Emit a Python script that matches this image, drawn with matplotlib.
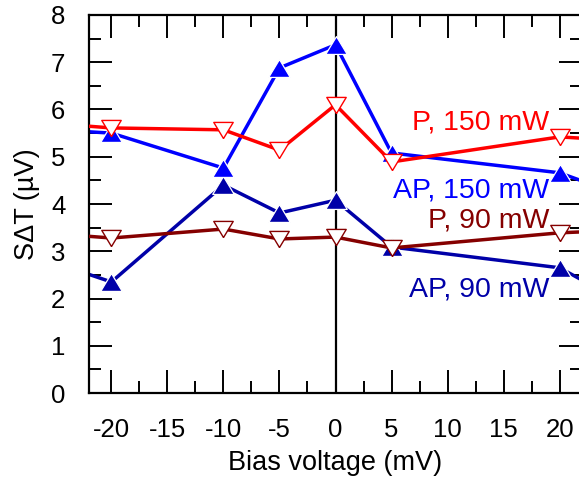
import matplotlib
matplotlib.use("Agg")
import matplotlib.pyplot as plt
from matplotlib.ticker import MultipleLocator

plt.rcParams["font.family"] = ["Liberation Sans", "DejaVu Sans"]
plt.rcParams["axes.unicode_minus"] = False

# bias voltage (mV); the outer points at +-25 lie outside the visible range
bias = [-25, -20, -10, -5, 0, 5, 20, 25]
ap_90 = [2.75, 2.35, 4.40, 3.81, 4.08, 3.09, 2.65, 2.00]
ap_150 = [5.57, 5.50, 4.76, 6.88, 7.37, 5.08, 4.66, 4.23]
p_150 = [5.70, 5.61, 5.57, 5.14, 6.10, 4.89, 5.42, 5.35]
p_90 = [3.37, 3.28, 3.47, 3.26, 3.30, 3.07, 3.39, 3.44]

labels = ["AP, 90 mW", "AP, 150 mW", "P, 90 mW", "P, 150 mW"]
label_y = [2.05, 4.13, 3.50, 5.57]
label_x = 19.1

navy = "#0000a8"
blue = "#0000ff"
dred = "#850000"
red = "#ff0000"

tri_up = [(0, 0.83), (-1, -0.83), (1, -0.83), (0, 0.83)]
tri_dn = [(0, -0.83), (-1, 0.83), (1, 0.83), (0, -0.83)]

fig = plt.figure(figsize=(5.79, 4.86), dpi=100)
ax = fig.add_axes([89 / 579, 93 / 486, 493 / 579, 378 / 486])

ax.axvline(0, color="k", lw=1.6, zorder=1)

lw = 2.5
ms = 15.5
ax.plot(bias, ap_90, color=navy, lw=lw, marker=tri_up, ms=ms,
        mfc=navy, mec="white", mew=0.9, zorder=2)
ax.plot(bias, ap_150, color=blue, lw=lw, marker=tri_up, ms=ms,
        mfc=blue, mec="white", mew=0.9, zorder=2)
ax.plot(bias, p_90, color=dred, lw=lw, marker=tri_dn, ms=ms - 1.5,
        mfc="white", mec=dred, mew=1.0, zorder=3)
ax.plot(bias, p_150, color=red, lw=lw, marker=tri_dn, ms=ms - 1.5,
        mfc="white", mec=red, mew=1.0, zorder=3)

for txt, y, c in zip(labels, label_y, [navy, blue, dred, red]):
    ax.text(label_x, y, txt, color=c, fontsize=20.5, ha="right", va="baseline")

ax.set_xlim(-22, 22)
ax.set_ylim(0, 8)
ax.xaxis.set_major_locator(MultipleLocator(5))
ax.xaxis.set_minor_locator(MultipleLocator(2.5))
ax.yaxis.set_major_locator(MultipleLocator(1))
ax.yaxis.set_minor_locator(MultipleLocator(0.5))
ax.tick_params(which="both", direction="in", top=True, right=True, width=1.4,
               color="k")
ax.tick_params(which="major", length=16.5, labelsize=18.5)
ax.tick_params(which="minor", length=8.5)
ax.tick_params(axis="x", which="major", pad=18)
ax.tick_params(axis="y", which="major", pad=17)
for s in ax.spines.values():
    s.set_linewidth(1.6)

ax.set_xlabel("Bias voltage (mV)", fontsize=19.5, labelpad=6)
ax.set_ylabel("SΔT (µV)", fontsize=19.5, labelpad=8)

fig.savefig("out.png", dpi=100)
